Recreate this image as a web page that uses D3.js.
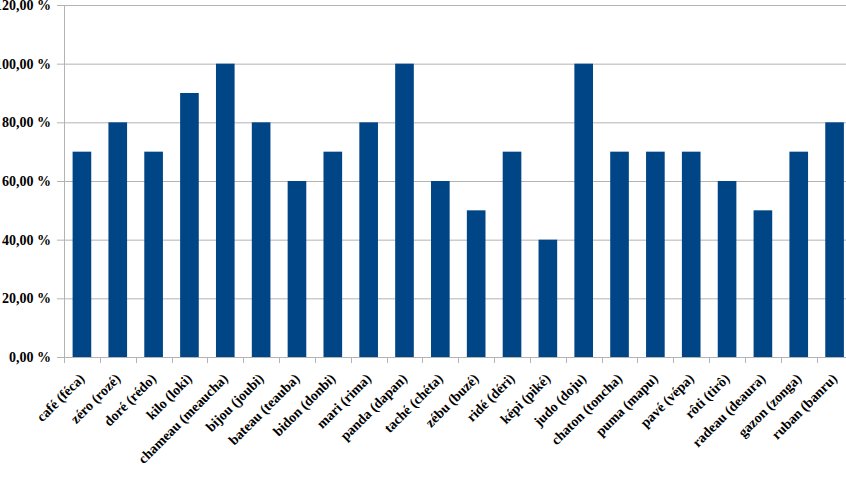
<!DOCTYPE html>
<html>
<head>
<meta charset="utf-8">
<script src="https://cdn.jsdelivr.net/npm/d3@7"></script>
<style>
  body { margin: 0; background: #fff; }
  svg { display: block; }
</style>
</head>
<body>
<svg id="chart" width="846" height="479"></svg>
<script>
// Chart data
const categories = [
  'café (féca)', 'zéro (rozé)', 'doré (rédo)', 'kilo (loki)', 'chameau (meaucha)',
  'bijou (joubi)', 'bateau (teauba)', 'bidon (donbi)', 'mari (rima)', 'panda (dapan)',
  'taché (chéta)', 'zébu (buzé)', 'ridé (déri)', 'képi (piké)', 'judo (doju)',
  'chaton (toncha)', 'puma (mapu)', 'pavé (vépa)', 'rôti (tirô)', 'radeau (deaura)',
  'gazon (zonga)', 'ruban (banru)'
];
const values = [70, 80, 70, 90, 100, 80, 60, 70, 80, 100, 60, 50, 70, 40, 100, 70, 70, 70, 60, 50, 70, 80];
const yTicks = [0, 20, 40, 60, 80, 100, 120];

const svg = d3.select('#chart');
const plotLeft = 64, plotRight = 852.5, plotTop = 5, plotBottom = 357;
const gridColor = '#b3b3b3';
const fontFamily = '"Liberation Serif", "Times New Roman", "DejaVu Serif", serif';

const x = d3.scaleBand()
  .domain(categories)
  .range([plotLeft, plotRight])
  .paddingInner(0.48)
  .paddingOuter(0.24);

const y = d3.scaleLinear().domain([0, 120]).range([plotBottom, plotTop]);

const fmt = v => v.toFixed(2).replace('.', ',') + ' %';

// Grid lines
svg.append('g')
  .selectAll('line')
  .data(yTicks)
  .join('line')
  .attr('x1', plotLeft - 7)
  .attr('x2', 846)
  .attr('y1', d => y(d) + 0.5)
  .attr('y2', d => y(d) + 0.5)
  .attr('stroke', gridColor)
  .attr('stroke-width', 1);

// Y axis labels (the widest ones run off the left edge, as in the original)
svg.append('g')
  .selectAll('text')
  .data(yTicks)
  .join('text')
  .attr('x', 51)
  .attr('y', d => y(d))
  .attr('dy', '0.35em')
  .attr('text-anchor', 'end')
  .attr('font-family', fontFamily)
  .attr('font-weight', 'bold')
  .attr('font-size', 14)
  .text(d => fmt(d));

// Left axis line
svg.append('line')
  .attr('x1', plotLeft + 0.5).attr('x2', plotLeft + 0.5)
  .attr('y1', plotTop).attr('y2', plotBottom)
  .attr('stroke', gridColor);

// Bars
svg.append('g')
  .selectAll('rect')
  .data(values)
  .join('rect')
  .attr('x', (d, i) => x(categories[i]))
  .attr('width', x.bandwidth())
  .attr('y', d => y(d))
  .attr('height', d => plotBottom - y(d))
  .attr('fill', '#004586');

// Bottom ticks between categories
const tickX = d3.range(categories.length + 1)
  .map(i => plotLeft + i * (plotRight - plotLeft) / categories.length);
svg.append('g')
  .selectAll('line')
  .data(tickX)
  .join('line')
  .attr('x1', d => Math.round(d) + 0.5)
  .attr('x2', d => Math.round(d) + 0.5)
  .attr('y1', plotBottom)
  .attr('y2', plotBottom + 6)
  .attr('stroke', gridColor);

// Category labels
svg.append('g')
  .selectAll('text')
  .data(categories)
  .join('text')
  .attr('transform', d => `translate(${x(d) + x.bandwidth() / 2},${plotBottom + 19}) rotate(-45)`)
  .attr('text-anchor', 'end')
  .attr('dy', '0.35em')
  .attr('font-family', fontFamily)
  .attr('font-weight', 'bold')
  .attr('font-size', 14)
  .text(d => d);
</script>
</body>
</html>
